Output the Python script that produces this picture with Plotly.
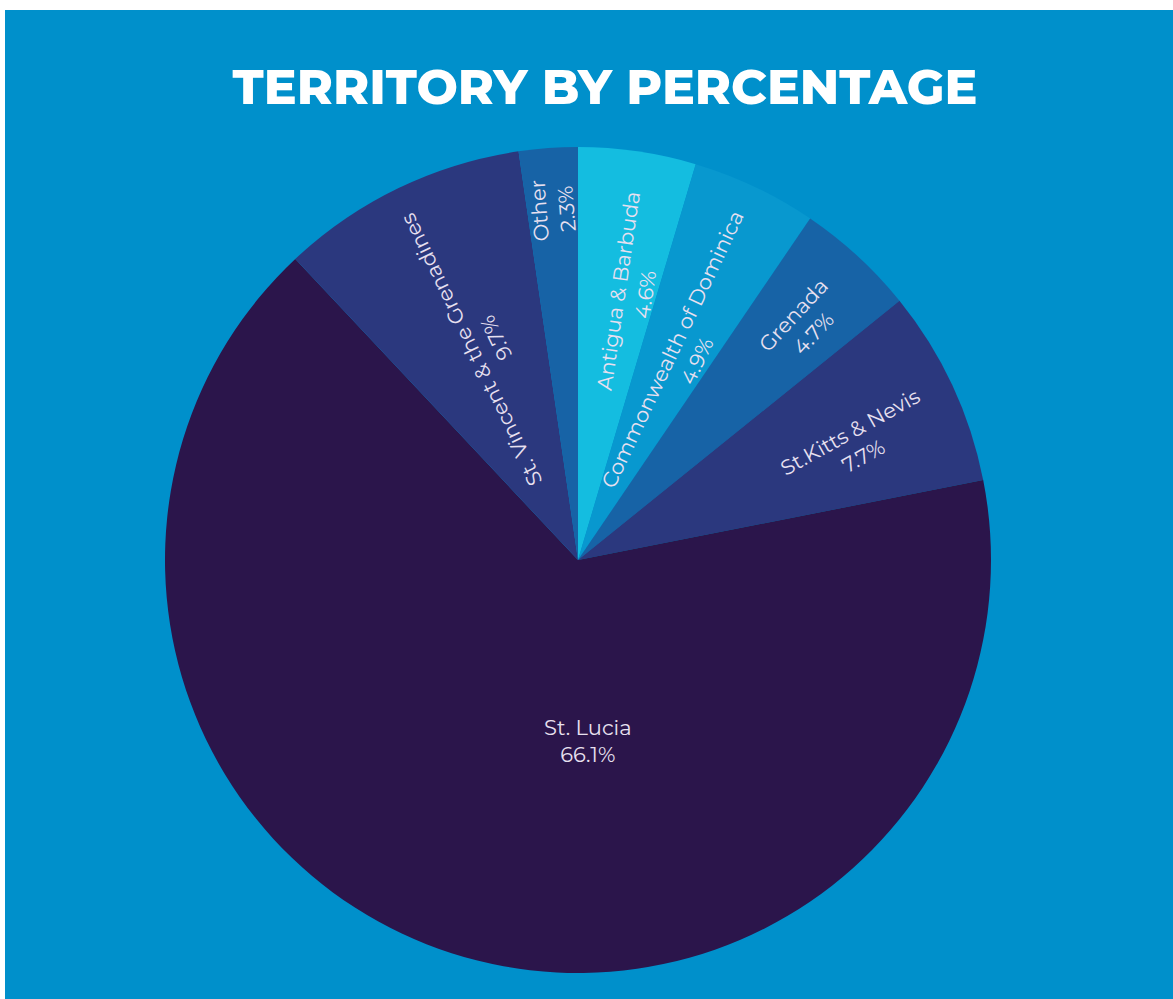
import math
import plotly.graph_objects as go

W, H = 1173, 999

labels = ["Antigua & Barbuda", "Commonwealth of Dominica", "Grenada",
          "St.Kitts & Nevis", "St. Lucia", "St. Vincent & the Grenadines", "Other"]
values = [4.6, 4.9, 4.7, 7.7, 66.1, 9.7, 2.3]
colors = ["#14BDE0", "#0898CF", "#1763A6", "#2B387E", "#2B154B", "#2B387E", "#1763A6"]
title_text = "TERRITORY BY PERCENTAGE"

# label placement (style): fraction of radius and angular shift (deg) from slice middle
label_radius = [0.66, 0.56, 0.79, 0.73, 0.44, 0.57, 0.85]
label_shift = [3, 2, 1, 2.4, -21, 2, 0]
label_rot_extra = [0, 0, 0, -4, 0, 0, 0]

BG = "#0090CB"
TEXT = "#E8E0F0"

# pie geometry in pixels
CX, CY, R = 578, 560, 413

fig = go.Figure(go.Pie(
    labels=labels,
    values=values,
    sort=False,
    direction="clockwise",
    rotation=0,
    marker=dict(colors=colors, line=dict(width=0)),
    textinfo="none",
    hoverinfo="label+percent",
    showlegend=False,
    domain=dict(x=[(CX - R) / W, (CX + R) / W], y=[1 - (CY + R) / H, 1 - (CY - R) / H]),
))

total = sum(values)
annotations = []
cum = 0.0
for lab, v, rf, sh, rx in zip(labels, values, label_radius, label_shift, label_rot_extra):
    mid = (cum + v / 2) / total * 360.0
    cum += v
    pos = math.radians(mid + sh)
    xp = CX + rf * R * math.sin(pos)
    yp = CY - rf * R * math.cos(pos)
    if 90 < mid < 270:
        ang = 0
    else:
        ang = mid - 90 + rx
    annotations.append(dict(
        x=xp / W, y=1 - yp / H, xref="paper", yref="paper",
        text=f"{lab}<br>{v / total * 100:.1f}%",
        showarrow=False, textangle=ang,
        xanchor="center", yanchor="middle", align="center",
        font=dict(family="Montserrat, Lato, sans-serif", size=21, color=TEXT),
    ))

fig.update_layout(
    width=W, height=H,
    margin=dict(l=0, r=0, t=0, b=0),
    paper_bgcolor=BG,
    plot_bgcolor=BG,
    title=dict(
        text=title_text,
        x=605 / W, xanchor="center",
        y=1 - 87 / H, yanchor="middle",
        font=dict(family="Montserrat, Inter, Lato, sans-serif", size=49, color="white", weight=800),
    ),
    annotations=annotations,
    shapes=[
        dict(type="rect", xref="paper", yref="paper", x0=0, x1=5 / W, y0=0, y1=1,
             fillcolor="white", line=dict(width=0), layer="above"),
        dict(type="rect", xref="paper", yref="paper", x0=0, x1=1, y0=1 - 10 / H, y1=1,
             fillcolor="white", line=dict(width=0), layer="above"),
    ],
)

fig.write_html("out.html", config={"displayModeBar": False},
               post_script="document.body.style.margin='0px';")
